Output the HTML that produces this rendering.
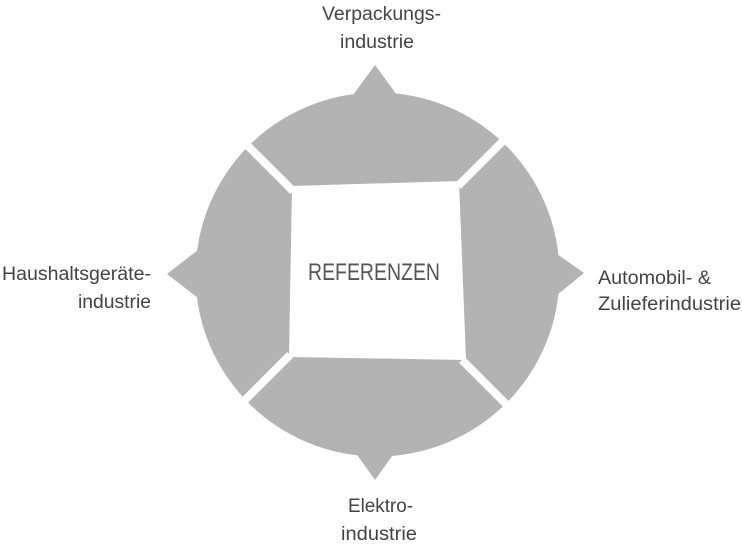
<!DOCTYPE html>
<html><head><meta charset="utf-8"><style>
html,body{margin:0;padding:0;background:#fff;width:742px;height:551px;overflow:hidden}
svg{display:block}
text{font-family:"Liberation Sans Narrow","Liberation Sans",sans-serif;fill:#444;font-size:19px}
</style></head><body>
<svg width="742" height="551" viewBox="0 0 742 551">
<circle cx="377.5" cy="274.5" r="182" fill="#b3b3b3"/>
<polygon points="375,65 353,95 397,95" fill="#b3b3b3"/>
<polygon points="584,273 557,254 557,295" fill="#b3b3b3"/>
<polygon points="375,480 355,452 395,452" fill="#b3b3b3"/>
<polygon points="167,274 198,250 198,298" fill="#b3b3b3"/>
<polygon points="292,186 459,181 466,360 289,357" fill="#fff"/>
<g stroke="#fff" stroke-width="8">
<line x1="293" y1="191" x2="238" y2="136"/>
<line x1="458" y1="186" x2="512" y2="132"/>
<line x1="462" y1="360" x2="515" y2="413"/>
<line x1="290" y1="355" x2="238" y2="407"/>
</g>
<text x="308" y="280" textLength="132" lengthAdjust="spacingAndGlyphs" style="font-size:24px;fill:#555">REFERENZEN</text>
<text x="322" y="20" textLength="119" lengthAdjust="spacingAndGlyphs">Verpackungs-</text>
<text x="340" y="48" textLength="74" lengthAdjust="spacingAndGlyphs">industrie</text>
<text x="2" y="280" textLength="149" lengthAdjust="spacingAndGlyphs">Haushaltsgeräte-</text>
<text x="78" y="308" textLength="73" lengthAdjust="spacingAndGlyphs">industrie</text>
<text x="598" y="284" textLength="113" lengthAdjust="spacingAndGlyphs">Automobil- &amp;</text>
<text x="598" y="310" textLength="143" lengthAdjust="spacingAndGlyphs">Zulieferindustrie</text>
<text x="348" y="512" textLength="65" lengthAdjust="spacingAndGlyphs">Elektro-</text>
<text x="341" y="540" textLength="76" lengthAdjust="spacingAndGlyphs">industrie</text>
</svg>
</body></html>
